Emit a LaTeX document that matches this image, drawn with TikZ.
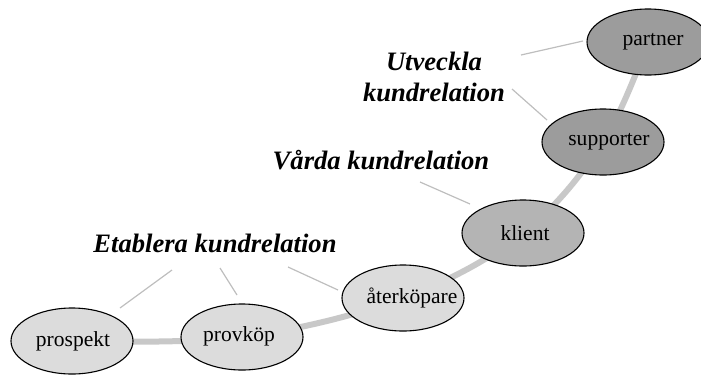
\documentclass[tikz,border=0pt]{standalone}
\usepackage{fontspec}
\setmainfont{Liberation Serif}[Ligatures=TeX]
\newfontfamily\timesx{Liberation Serif}
\usetikzlibrary{shapes.geometric,backgrounds}
\definecolor{lightfill}{HTML}{DCDCDC}
\definecolor{midfill}{HTML}{B4B4B4}
\definecolor{darkfill}{HTML}{9C9C9C}
\definecolor{trackgray}{HTML}{C8C8C8}
\definecolor{leadgray}{HTML}{BEBEBE}
\begin{document}
\begin{tikzpicture}[x=1bp,y=-1bp,
  stage/.style={ellipse,draw=black,line width=1.1bp,minimum width=122bp,minimum height=66bp,inner sep=0pt},
  stagetext/.style={font=\timesx\fontsize{21.6}{24}\selectfont,inner sep=0pt},
  phase/.style={font=\timesx\fontsize{26.7}{31}\selectfont\bfseries\itshape,align=center,inner sep=0pt},
  leader/.style={draw=leadgray,line width=1.2bp},
  track/.style={draw=trackgray,line width=6bp}
]
\useasboundingbox (0,0) rectangle (701,374);

\node[stage,fill=lightfill,label={[stagetext,xshift=1bp]center:prospekt}] (s1) at (72,341) {};
\node[stage,fill=lightfill,label={[stagetext,xshift=-3bp,yshift=1bp]center:provköp}] (s2) at (242,337) {};
\node[stage,fill=lightfill,label={[stagetext,xshift=9bp]center:återköpare}] (s3) at (403,298) {};
\node[stage,fill=midfill,label={[stagetext,xshift=2bp]center:klient}] (s4) at (523,233) {};
\node[stage,fill=darkfill,label={[stagetext,xshift=6bp]center:supporter}] (s5) at (603,142) {};
\node[stage,fill=darkfill,label={[stagetext,xshift=5bp]center:partner}] (s6) at (648,42) {};

\begin{scope}[on background layer]
\draw[track] plot[smooth,tension=0.6] coordinates {(s1.center) (s2.center) (s3.center) (s4.center) (s5.center) (s6.center)};
\end{scope}

\node[phase] (etab) at (215,243) {Etablera kundrelation};
\node[phase] (varda) at (381,160) {Vårda kundrelation};
\node[phase] (utv) at (434,77) {Utveckla\\kundrelation};

\coordinate (e1a) at (120,308); \coordinate (e1b) at (172,270);
\coordinate (e2a) at (237,295); \coordinate (e2b) at (220,268);
\coordinate (e3a) at (338,290); \coordinate (e3b) at (288,267);
\coordinate (v1a) at (470,204); \coordinate (v1b) at (420,182);
\coordinate (u1a) at (547,120); \coordinate (u1b) at (512,89);
\coordinate (u2a) at (583,41);  \coordinate (u2b) at (521,55);

\draw[leader] (e1a) -- (e1b);
\draw[leader] (e2a) -- (e2b);
\draw[leader] (e3a) -- (e3b);
\draw[leader] (v1a) -- (v1b);
\draw[leader] (u1a) -- (u1b);
\draw[leader] (u2a) -- (u2b);
\end{tikzpicture}
\end{document}
